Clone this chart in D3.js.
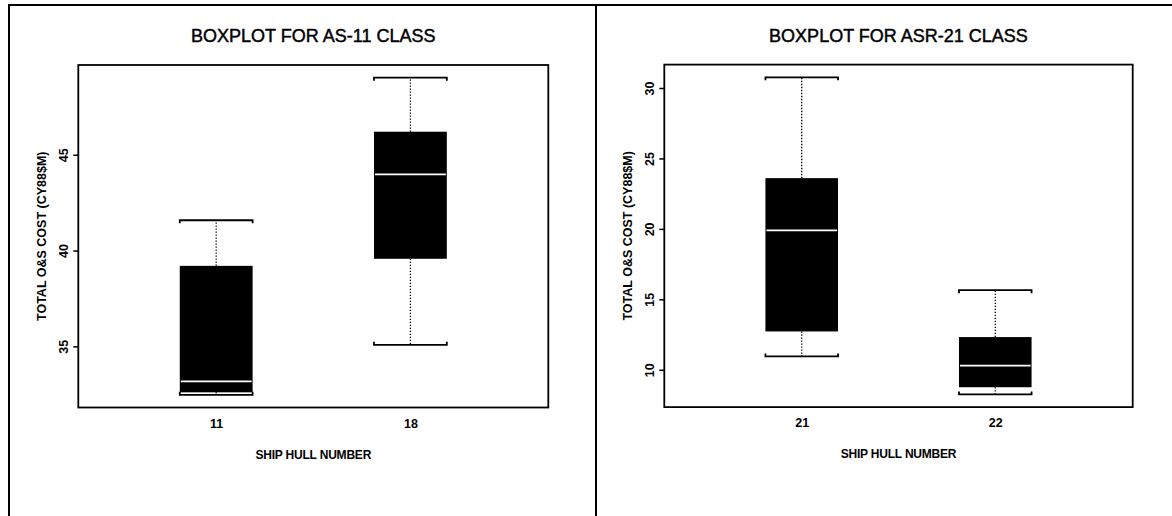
<!DOCTYPE html>
<html>
<head>
<meta charset="utf-8">
<script src="https://cdn.jsdelivr.net/npm/d3@7"></script>
<style>
  html, body { margin: 0; padding: 0; background: #fff; }
  svg { display: block; }
  text { font-family: "Liberation Sans", Arial, sans-serif; fill: #000; }
</style>
</head>
<body>
<svg id="chart" width="1172" height="516"></svg>
<script>
// AS-11 class: five-number summaries per hull
const asHulls = ["11", "18"];
const asMin = [32.47, 35.08];
const asQ1 = [32.60, 39.57];
const asMedian = [33.17, 43.97];
const asQ3 = [39.20, 46.20];
const asMax = [41.58, 49.02];
const asTicks = [35, 40, 45];

// ASR-21 class: five-number summaries per hull
const asrHulls = ["21", "22"];
const asrMin = [10.95, 8.25];
const asrQ1 = [12.72, 8.76];
const asrMedian = [19.90, 10.30];
const asrQ3 = [23.60, 12.32];
const asrMax = [30.76, 15.65];
const asrTicks = [10, 15, 20, 25, 30];

const yLabel = "TOTAL O&S COST (CY88$M)";
const xLabel = "SHIP HULL NUMBER";

const panels = [
  { title: "BOXPLOT FOR AS-11 CLASS", hulls: asHulls, min: asMin, q1: asQ1, med: asMedian, q3: asQ3, max: asMax, ticks: asTicks,
    left: 78.3, right: 548.3, top: 65, bottom: 407.5 },
  { title: "BOXPLOT FOR ASR-21 CLASS", hulls: asrHulls, min: asrMin, q1: asrQ1, med: asrMedian, q3: asrQ3, max: asrMax, ticks: asrTicks,
    left: 664.3, right: 1132.7, top: 64.6, bottom: 407.1 }
];

const svg = d3.select("#chart");

// page frame: top rule, left rule and the divider between the two figures
const frame = svg.append("g").attr("stroke", "#000").attr("stroke-width", 2);
frame.append("line").attr("x1", 8).attr("x2", 1172).attr("y1", 5).attr("y2", 5);
frame.append("line").attr("x1", 9).attr("x2", 9).attr("y1", 4).attr("y2", 516);
frame.append("line").attr("x1", 596).attr("x2", 596).attr("y1", 4).attr("y2", 516);

const boxHalf = 0.1875;   // half box width in x units
const capTick = 3;        // bracket end length in px

panels.forEach(p => {
  const g = svg.append("g");
  const lo = d3.min(p.min), hi = d3.max(p.max), pad = (hi - lo) * 0.04;
  const y = d3.scaleLinear().domain([lo - pad, hi + pad]).range([p.bottom, p.top]);
  const x = d3.scaleLinear().domain([0.29, 2.71]).range([p.left, p.right]);
  const cx = (p.left + p.right) / 2;

  // title
  g.append("text").attr("x", cx).attr("y", 41.5).attr("text-anchor", "middle")
    .style("font-size", "18px").style("stroke", "#000").style("stroke-width", "0.45px").text(p.title);

  // y axis: outward ticks with rotated labels
  const yAxis = d3.axisLeft(y).tickValues(p.ticks).tickSize(5).tickPadding(0).tickFormat(d3.format("d"));
  const ya = g.append("g").attr("transform", `translate(${p.left},0)`).call(yAxis);
  ya.select(".domain").remove();
  ya.selectAll(".tick line").attr("stroke", "#000").attr("stroke-width", 1.5);
  ya.selectAll(".tick text")
    .attr("x", null)
    .attr("text-anchor", "middle")
    .attr("transform", "translate(-14.5,0) rotate(-90)")
    .attr("dy", "0.35em")
    .style("font-size", "12.5px").style("font-weight", "bold").style("font-family", "'Liberation Sans', Arial, sans-serif");

  // x axis: labels only at each hull position
  const xAxis = d3.axisBottom(x).tickValues(p.hulls.map((d, i) => i + 1)).tickSize(0).tickPadding(0)
    .tickFormat((d, i) => p.hulls[i]);
  const xa = g.append("g").attr("transform", `translate(0,${p.bottom})`).call(xAxis);
  xa.select(".domain").remove();
  xa.selectAll(".tick text").attr("y", 20).attr("dy", null)
    .style("font-size", "12.5px").style("font-weight", "bold").style("font-family", "'Liberation Sans', Arial, sans-serif");

  // axis titles
  g.append("text").attr("x", cx).attr("y", p.bottom + 51).attr("text-anchor", "middle")
    .style("font-size", "12px").style("font-weight", "bold").style("letter-spacing", "-0.2px").text(xLabel);
  g.append("text")
    .attr("transform", `translate(${p.left - 32.5},${(p.top + p.bottom) / 2}) rotate(-90)`)
    .attr("text-anchor", "middle")
    .style("font-size", "12.5px").style("font-weight", "bold").text(yLabel);

  // boxes
  p.hulls.forEach((h, i) => {
    const c = x(i + 1), x0 = x(i + 1 - boxHalf), x1 = x(i + 1 + boxHalf);
    const b = g.append("g");
    // dotted whiskers
    b.append("line").attr("x1", c).attr("x2", c).attr("y1", y(p.q3[i])).attr("y2", y(p.max[i]))
      .attr("stroke", "#000").attr("stroke-width", 1.3).attr("stroke-dasharray", "1.3,1.7");
    b.append("line").attr("x1", c).attr("x2", c).attr("y1", y(p.q1[i])).attr("y2", y(p.min[i]))
      .attr("stroke", "#000").attr("stroke-width", 1.3).attr("stroke-dasharray", "1.3,1.7");
    // bracket caps
    const yt = y(p.max[i]), yb = y(p.min[i]);
    b.append("path").attr("d", `M${x0},${yt + capTick}V${yt}H${x1}V${yt + capTick}`)
      .attr("fill", "none").attr("stroke", "#000").attr("stroke-width", 1.8);
    b.append("path").attr("d", `M${x0},${yb - capTick}V${yb}H${x1}V${yb - capTick}`)
      .attr("fill", "none").attr("stroke", "#000").attr("stroke-width", 1.8);
    // filled box
    b.append("rect").attr("x", x0).attr("width", x1 - x0)
      .attr("y", y(p.q3[i])).attr("height", y(p.q1[i]) - y(p.q3[i])).attr("fill", "#000");
    // white median
    b.append("line").attr("x1", x0 + 1).attr("x2", x1 - 1).attr("y1", y(p.med[i])).attr("y2", y(p.med[i]))
      .attr("stroke", "#fff").attr("stroke-width", 1.8);
  });

  // plot frame
  g.append("rect").attr("x", p.left).attr("y", p.top).attr("width", p.right - p.left).attr("height", p.bottom - p.top)
    .attr("fill", "none").attr("stroke", "#000").attr("stroke-width", 1.8);
});
</script>
</body>
</html>
